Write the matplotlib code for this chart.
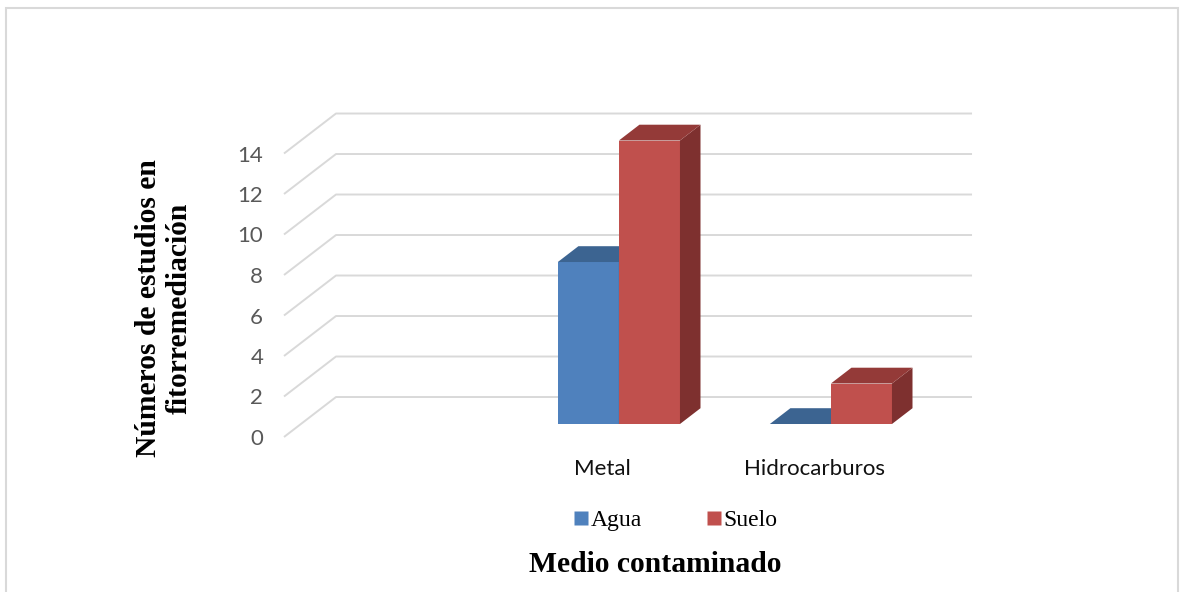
import numpy as np
import matplotlib
matplotlib.use("Agg")
import matplotlib.pyplot as plt
from matplotlib.patches import Polygon, Rectangle
from matplotlib.lines import Line2D

# Data
categories = ["", "Metal", "Hidrocarburos"]
series_names = ["Agua", "Suelo"]
agua = [np.nan, 8, 0]
suelo = [np.nan, 14, 2]
y_ticks = [0, 2, 4, 6, 8, 10, 12, 14]

# Face colours (front, top, side) per series
colors = {
    "Agua": ("#4F81BD", "#3C6491", "#2F507A"),
    "Suelo": ("#C0504D", "#943A38", "#7E302F"),
}

W, H = 1181, 592
fig = plt.figure(figsize=(W / 100, H / 100), dpi=100)

# Chart-area border
fig.patches.append(Rectangle((6 / W, -0.05), (1178 - 6) / W, 1.05 - 8 / H,
                             transform=fig.transFigure, fill=False,
                             edgecolor="#d9d9d9", linewidth=1.5))

# Front plane of the 3-D plot
ax = fig.add_axes([284 / W, (H - 437) / H, 636 / W, 283.5 / H])
ax.set_xlim(0, 3)
ax.set_ylim(0, 14)
for s in ax.spines.values():
    s.set_visible(False)
ax.patch.set_alpha(0)

# Oblique depth offset of the back wall (category units, value units)
DX, DY = 0.2453, 1.975
# Depth range taken by the columns
F0, F1 = 0.325, 0.72
bar_w = 0.288

grid_c = "#d9d9d9"
for v in y_ticks:
    ax.plot([0, DX, 3 + DX], [v, v + DY, v + DY], color=grid_c, lw=1.4,
            clip_on=False, zorder=1, solid_capstyle="butt")


def draw_bar(x0, val, cols):
    front, top, side = cols
    ox0, oy0 = F0 * DX, F0 * DY
    ox1, oy1 = F1 * DX, F1 * DY
    x1 = x0 + bar_w
    # front face
    ax.add_patch(Polygon([(x0 + ox0, oy0), (x1 + ox0, oy0),
                          (x1 + ox0, val + oy0), (x0 + ox0, val + oy0)],
                         closed=True, facecolor=front, edgecolor="none",
                         clip_on=False, zorder=3))
    # side face
    ax.add_patch(Polygon([(x1 + ox0, oy0), (x1 + ox1, oy1),
                          (x1 + ox1, val + oy1), (x1 + ox0, val + oy0)],
                         closed=True, facecolor=side, edgecolor="none",
                         clip_on=False, zorder=3))
    # top face
    ax.add_patch(Polygon([(x0 + ox0, val + oy0), (x1 + ox0, val + oy0),
                          (x1 + ox1, val + oy1), (x0 + ox1, val + oy1)],
                         closed=True, facecolor=top, edgecolor="none",
                         clip_on=False, zorder=3))


for i, cat in enumerate(categories):
    center = i + 0.5
    for j, (name, vals) in enumerate(zip(series_names, [agua, suelo])):
        val = vals[i]
        if np.isnan(val):
            continue
        x0 = center - bar_w + j * bar_w
        draw_bar(x0, val, colors[name])

# Axis ticks and labels
tick_font = "Lato"
ax.set_yticks(y_ticks)
ax.set_yticklabels([str(v) for v in y_ticks], fontsize=16,
                   color="#595959", fontfamily=tick_font)
ax.tick_params(axis="y", length=0, pad=15)
ax.set_xticks([i + 0.5 for i in range(len(categories))])
ax.set_xticklabels(categories, fontsize=16, color="#111111",
                   fontfamily=tick_font)
ax.tick_params(axis="x", length=0, pad=16)

# Axis titles
fig.text(164 / W, 1 - 308 / H, "Números de estudios en\nfitorremediación",
         rotation=90, ha="center", va="center", fontsize=21.3,
         fontweight="bold", fontfamily="Liberation Serif", linespacing=1.2)
fig.text(655 / W, 1 - 565 / H, "Medio contaminado", ha="center",
         va="center", fontsize=21.3, fontweight="bold",
         fontfamily="Liberation Serif")

# Legend
handles = [Line2D([], [], marker="s", linestyle="none", markersize=9.4,
                  markerfacecolor=colors[n][0], markeredgecolor="none")
           for n in series_names]
fig.legend(handles, series_names, loc="center",
           bbox_to_anchor=(676 / W, 1 - 520 / H), ncol=2, frameon=False,
           handlelength=0.55, handletextpad=0.15, columnspacing=2.75,
           prop={"family": "Liberation Serif", "size": 17})

fig.savefig("out.png", dpi=100)
